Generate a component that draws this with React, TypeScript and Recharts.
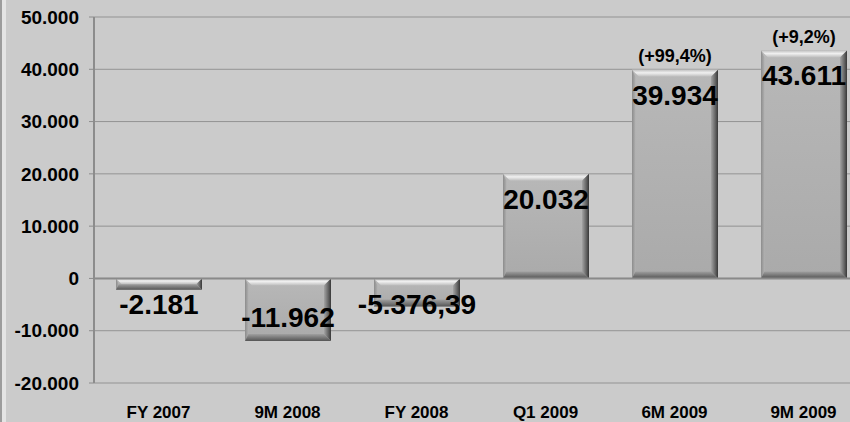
import React from "react";
import {
  BarChart,
  Bar,
  XAxis,
  YAxis,
  CartesianGrid,
  ReferenceLine,
  LabelList,
} from "recharts";

const categories = ["FY 2007", "9M 2008", "FY 2008", "Q1 2009", "6M 2009", "9M 2009"];
const ebitda = [-2181, -11962, -5376.39, 20032, 39934, 43611];
const growth = ["", "", "", "", "(+99,4%)", "(+9,2%)"];
const yTicks = [-20000, -10000, 0, 10000, 20000, 30000, 40000, 50000];

const FONT = "'Liberation Sans', Arial, sans-serif";

const data = categories.map((name, i) => ({
  name,
  value: ebitda[i],
  growth: growth[i],
}));

// german style: 20.032 / -5.376,39
function fmt(v: number) {
  const neg = v < 0;
  const [i, d] = Math.abs(v).toFixed(2).split(".");
  const int = i.replace(/\B(?=(\d{3})+(?!\d))/g, ".");
  return (neg ? "-" : "") + int + (d === "00" ? "" : "," + d);
}

function norm(p: any) {
  let { x, y, width, height } = p;
  if (height < 0) {
    y = y + height;
    height = -height;
  }
  return { x, y, w: width, h: height };
}

function BevelBar(props: any) {
  const { x, y, w, h } = norm(props);
  if (!w || !h) return null;
  const b = Math.min(7, h / 2);
  return (
    <g>
      <rect x={x} y={y} width={w} height={h} fill="url(#body)" />
      <polygon
        points={`${x},${y} ${x + w},${y} ${x + w - b},${y + b} ${x + b},${y + b}`}
        fill="url(#topEdge)"
      />
      <polygon
        points={`${x},${y} ${x + b * 0.5},${y + b} ${x + b * 0.5},${y + h - b} ${x},${y + h}`}
        fill="url(#leftEdge)"
      />
      <polygon
        points={`${x + w},${y} ${x + w},${y + h} ${x + w - b},${y + h - b} ${x + w - b},${y + b}`}
        fill="url(#rightEdge)"
      />
      <polygon
        points={`${x},${y + h} ${x + w},${y + h} ${x + w - b},${y + h - b} ${x + b * 0.5},${y + h - b}`}
        fill="url(#bottomEdge)"
      />
    </g>
  );
}

function ValueLabel(props: any) {
  const { x, y, w, h } = norm(props);
  const v = Number(props.value);
  let cy;
  if (v >= 0) cy = y + 25;
  else cy = Math.max(y + 25, y + h - 24);
  return (
    <text
      x={x + w / 2}
      y={cy}
      dy="0.36em"
      textAnchor="middle"
      fontFamily={FONT}
      fontWeight="bold"
      fontSize={28}
      fill="#000"
    >
      {fmt(v)}
    </text>
  );
}

function GrowthLabel(props: any) {
  const { x, y, w } = norm(props);
  if (!props.value) return null;
  return (
    <text
      x={x + w / 2}
      y={y - 14}
      dy="0.36em"
      textAnchor="middle"
      fontFamily={FONT}
      fontWeight="bold"
      fontSize={18}
      fill="#000"
    >
      {props.value}
    </text>
  );
}

export default function App() {
  return (
    <div
      style={{
        position: "absolute",
        top: 0,
        left: 0,
        width: 850,
        height: 422,
        overflow: "hidden",
        background: "#cbcbcb",
      }}
    >
      <BarChart
        width={870}
        height={422}
        data={data}
        margin={{ top: 17, right: 2, bottom: 0, left: 0 }}
      >
        <defs>
          <linearGradient id="body" x1="0" y1="0" x2="0" y2="1">
            <stop offset="0%" stopColor="#b8b8b8" />
            <stop offset="100%" stopColor="#aaaaaa" />
          </linearGradient>
          <linearGradient id="topEdge" x1="0" y1="0" x2="0" y2="1">
            <stop offset="0%" stopColor="#c0c0c0" />
            <stop offset="45%" stopColor="#f0f0f0" />
            <stop offset="100%" stopColor="#bdbdbd" />
          </linearGradient>
          <linearGradient id="leftEdge" x1="0" y1="0" x2="1" y2="0">
            <stop offset="0%" stopColor="#8c8c8c" />
            <stop offset="100%" stopColor="#b0b0b0" />
          </linearGradient>
          <linearGradient id="rightEdge" x1="0" y1="0" x2="1" y2="0">
            <stop offset="0%" stopColor="#a4a4a4" />
            <stop offset="60%" stopColor="#666666" />
            <stop offset="100%" stopColor="#383838" />
          </linearGradient>
          <linearGradient id="bottomEdge" x1="0" y1="0" x2="0" y2="1">
            <stop offset="0%" stopColor="#a0a0a0" />
            <stop offset="100%" stopColor="#555555" />
          </linearGradient>
        </defs>
        <CartesianGrid vertical={false} stroke="#939393" strokeWidth={1} />
        <XAxis
          dataKey="name"
          height={39}
          axisLine={false}
          tickLine={false}
          tickSize={0}
          tickMargin={23}
          tick={{ fontFamily: FONT, fontWeight: "bold", fontSize: 17, fill: "#000" }}
        />
        <YAxis
          width={94}
          domain={[-20000, 50000]}
          ticks={yTicks}
          interval={0}
          allowDataOverflow
          tickFormatter={(v: number) => fmt(v)}
          axisLine={{ stroke: "#8c8c8c", strokeWidth: 2 }}
          tickLine={{ stroke: "#8c8c8c" }}
          tickSize={5}
          tickMargin={10}
          tick={{ fontFamily: FONT, fontWeight: "bold", fontSize: 19, fill: "#000" }}
        />
        <ReferenceLine y={0} stroke="#8a8a8a" strokeWidth={2} />
        <Bar dataKey="value" barSize={86} shape={<BevelBar />} isAnimationActive={false}>
          <LabelList dataKey="value" content={<ValueLabel />} />
          <LabelList dataKey="growth" content={<GrowthLabel />} />
        </Bar>
      </BarChart>
      <div
        style={{
          position: "absolute",
          top: 0,
          left: 0,
          width: 2,
          height: 422,
          background: "#9c9c9c",
        }}
      />
      <div
        style={{
          position: "absolute",
          top: 0,
          left: 2,
          width: 4,
          height: 422,
          background: "#e4e4e4",
        }}
      />
    </div>
  );
}
